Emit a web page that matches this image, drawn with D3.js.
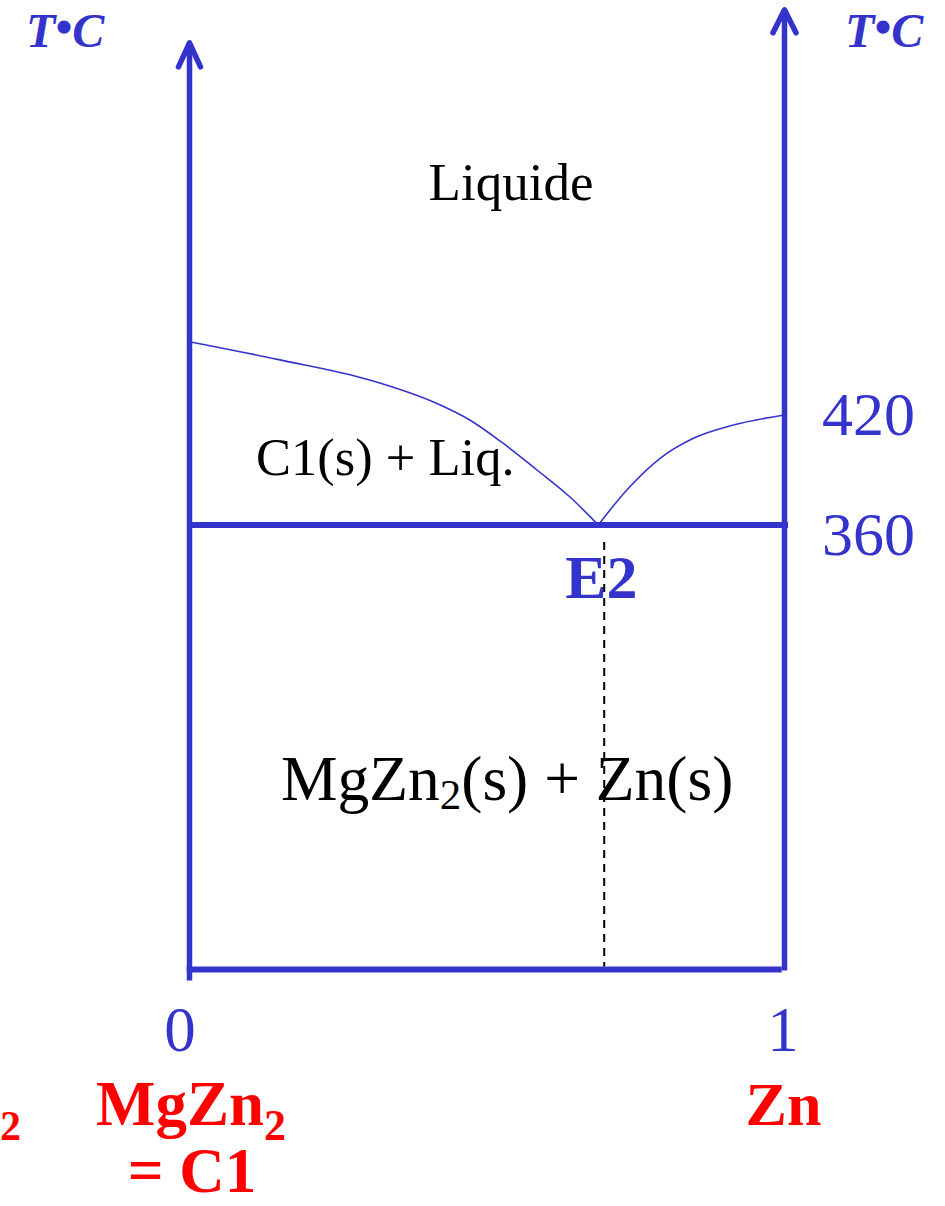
<!DOCTYPE html>
<html>
<head>
<meta charset="utf-8">
<script src="https://cdn.jsdelivr.net/npm/d3@7"></script>
<style>
  html, body { margin: 0; padding: 0; background: #fff; }
  svg { display: block; }
  text { font-family: "Liberation Serif", "Times New Roman", serif; }
</style>
</head>
<body>
<svg id="chart" width="945" height="1206"></svg>
<script>
// Mole fraction of Zn along the MgZn2 – Zn section
const compositionTicks = [0, 1];
const compositionTickLabels = ["0", "1"];

// Temperature labels on the right axis (°C)
const tempTicks = [420, 360];

// Invariant: eutectic E2
const eutecticT = 360;
const eutecticX = 0.687;
const eutecticLineX = 0.697;   // vertical guide through the eutectic
const floorT = 117.5;          // lower edge of the section
const leftAxisTopT = 623;
const rightAxisTopT = 641;

// Liquidus branches [x(Zn), T °C]
const liquidusC1 = [
  [0.000, 460.0], [0.150, 450.2], [0.303, 439.1], [0.415, 426.4],
  [0.471, 417.3], [0.527, 404.6], [0.584, 390.0], [0.639, 375.4],
  [0.687, 360.0]
];
const liquidusZn = [
  [0.687, 360.0], [0.735, 379.1], [0.791, 396.4], [0.847, 407.3],
  [0.914, 414.5], [1.000, 420.0]
];

const BLUE = "#3434CC";
const RED = "#FF0000";

const svg = d3.select("#chart");

const x = d3.scaleLinear().domain([0, 1]).range([189.5, 784.5]);
const y = d3.scaleLinear().domain([360, 420]).range([525, 415]);

// ---- frame: temperature axes, eutectic line, floor ----
const frame = svg.append("g")
  .attr("fill", "none")
  .attr("stroke", BLUE)
  .attr("stroke-width", 5.5);

// left axis with arrow
frame.append("line")
  .attr("x1", x(0)).attr("x2", x(0))
  .attr("y1", y(floorT) + 11).attr("y2", y(leftAxisTopT));
frame.append("path")
  .attr("stroke-linecap", "round").attr("stroke-linejoin", "round")
  .attr("d", d3.line()([
    [x(0) - 11, y(leftAxisTopT) + 24],
    [x(0), y(leftAxisTopT)],
    [x(0) + 11, y(leftAxisTopT) + 24]
  ]));

// right axis with arrow
frame.append("line")
  .attr("x1", x(1)).attr("x2", x(1))
  .attr("y1", y(floorT) + 1).attr("y2", y(rightAxisTopT));
frame.append("path")
  .attr("stroke-linecap", "round").attr("stroke-linejoin", "round")
  .attr("d", d3.line()([
    [x(1) - 11.5, y(rightAxisTopT) + 23],
    [x(1), y(rightAxisTopT)],
    [x(1) + 11.5, y(rightAxisTopT) + 23]
  ]));

// floor
frame.append("line")
  .attr("stroke-width", 6)
  .attr("x1", x(0) - 2.8).attr("x2", x(1) - 2.8)
  .attr("y1", y(floorT)).attr("y2", y(floorT));

// eutectic horizontal
frame.append("line")
  .attr("stroke-width", 6)
  .attr("x1", x(0)).attr("x2", x(1) + 3.5)
  .attr("y1", y(eutecticT)).attr("y2", y(eutecticT));

// ---- liquidus curves ----
const liq = d3.line()
  .x(d => x(d[0]))
  .y(d => y(d[1]))
  .curve(d3.curveMonotoneX);

svg.append("g")
  .attr("fill", "none")
  .attr("stroke", BLUE)
  .attr("stroke-width", 1.6)
  .selectAll("path")
  .data([liquidusC1, liquidusZn])
  .join("path")
  .attr("d", liq);

// ---- T°C axis titles ----
function tLabel(px) {
  const t = svg.append("text")
    .attr("x", px).attr("y", 47)
    .attr("fill", BLUE)
    .attr("font-size", 48)
    .attr("font-weight", "bold")
    .attr("font-style", "italic");
  t.append("tspan").text("T");
  t.append("tspan").attr("dy", -4).text("•");
  t.append("tspan").attr("dy", 4).text("C");
}
tLabel(26);
tLabel(845);

// ---- temperature labels ----
const tOffsets = { 420: 20, 360: 30 };
svg.append("g")
  .attr("fill", BLUE)
  .attr("font-size", 62)
  .selectAll("text")
  .data(tempTicks)
  .join("text")
  .attr("x", x(1) + 37.5)
  .attr("y", d => y(d) + tOffsets[d])
  .text(d => d);

// ---- composition ticks ----
svg.append("g")
  .attr("fill", BLUE)
  .attr("font-size", 63)
  .attr("text-anchor", "middle")
  .selectAll("text")
  .data(compositionTicks)
  .join("text")
  .attr("x", (d, i) => i === 0 ? x(d) - 9.5 : x(d) - 1.5)
  .attr("y", 1051)
  .text((d, i) => compositionTickLabels[i]);

// ---- E2 ----
svg.append("text")
  .attr("x", x(eutecticX) - 33)
  .attr("y", 598)
  .attr("fill", BLUE)
  .attr("font-size", 62)
  .attr("font-weight", "bold")
  .text("E2");

// ---- phase-field labels ----
const fields = svg.append("g").attr("fill", "#000");
fields.append("text")
  .attr("x", 511).attr("y", 200)
  .attr("text-anchor", "middle")
  .attr("font-size", 53)
  .text("Liquide");
fields.append("text")
  .attr("x", 256).attr("y", 475)
  .attr("font-size", 52.5)
  .text("C1(s) + Liq.");
const mix = fields.append("text")
  .attr("x", 281).attr("y", 800)
  .attr("font-size", 63.5);
mix.append("tspan").attr("fill", "#000").text("MgZn");
mix.append("tspan").attr("fill", "#000").attr("dy", 9).attr("font-size", 43).text("2");
mix.append("tspan").attr("fill", "#000").attr("dy", -9).text("(s) + Zn(s)");

// ---- component labels ----
const comp = svg.append("g")
  .attr("fill", RED)
  .attr("font-weight", "bold");
const mg = comp.append("text")
  .attr("x", 96).attr("y", 1125)
  .attr("font-size", 63);
mg.append("tspan").text("MgZn");
mg.append("tspan").attr("dy", 15).attr("font-size", 44).text("2");
comp.append("text")
  .attr("x", 192).attr("y", 1192)
  .attr("text-anchor", "middle")
  .attr("font-size", 63)
  .text("= C1");
comp.append("text")
  .attr("x", x(1) - 1).attr("y", 1125)
  .attr("text-anchor", "middle")
  .attr("font-size", 62)
  .text("Zn");
comp.append("text")
  .attr("x", 0).attr("y", 1140)
  .attr("font-size", 42)
  .text("2");

// ---- dashed guide through the eutectic ----
svg.append("line")
  .attr("x1", x(eutecticLineX)).attr("x2", x(eutecticLineX))
  .attr("y1", y(eutecticT) + 17).attr("y2", y(floorT) - 3)
  .attr("stroke", "#000")
  .attr("stroke-width", 2)
  .attr("stroke-dasharray", "8,6");
</script>
</body>
</html>
